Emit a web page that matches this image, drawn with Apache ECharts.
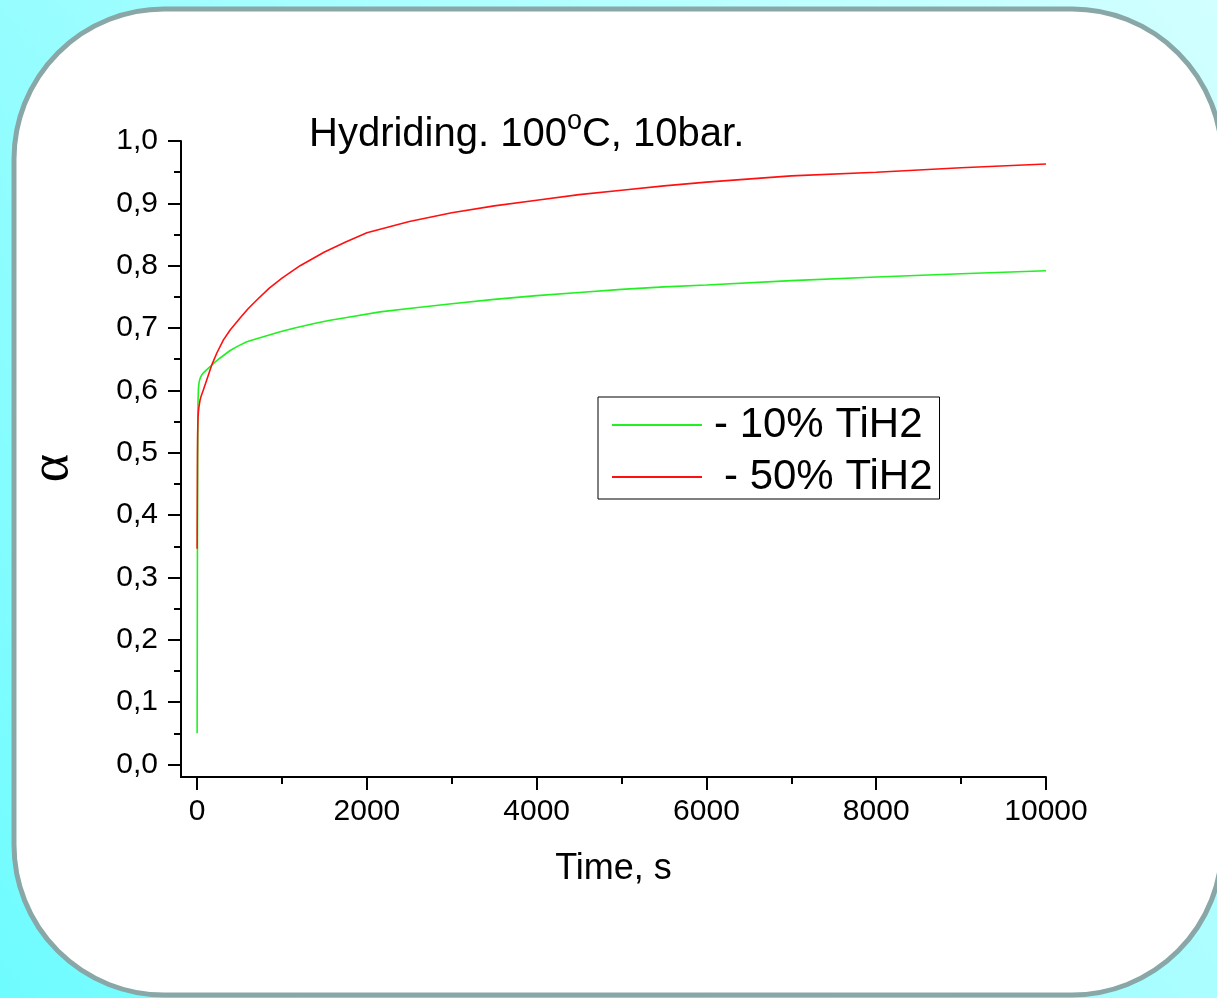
<!DOCTYPE html>
<html>
<head>
<meta charset="utf-8">
<script src="https://cdn.jsdelivr.net/npm/echarts@6/dist/echarts.min.js"></script>
<style>
html,body{margin:0;padding:0;width:1217px;height:998px;overflow:hidden;}
#chart{width:1217px;height:998px;}
</style>
</head>
<body>
<div id="chart"></div>
<script>
// ---- data ----
const seriesNames = ['- 10% TiH2', '- 50% TiH2'];
const timeGreen  = [0, 3, 6, 10, 15, 22, 30, 40, 55, 80, 110, 153, 200, 271, 389, 480, 585, 700, 800, 978, 1150, 1366, 1550, 1763, 2155, 2600, 3000, 3500, 4000, 4500, 5000, 5500, 6000, 7000, 8000, 9000, 10000];
const alphaGreen = [0.05, 0.30, 0.50, 0.58, 0.603, 0.612, 0.617, 0.621, 0.625, 0.629, 0.633, 0.638, 0.644, 0.652, 0.664, 0.671, 0.678, 0.683, 0.687, 0.694, 0.700, 0.707, 0.712, 0.717, 0.726, 0.733, 0.739, 0.746, 0.752, 0.757, 0.762, 0.766, 0.769, 0.776, 0.782, 0.787, 0.792];
const timeRed  = [0, 2, 4, 6, 10, 15, 22, 35, 50, 74, 114, 173, 232, 310, 389, 506, 600, 703, 850, 1000, 1213, 1500, 1750, 2000, 2500, 3000, 3500, 4000, 4500, 5000, 5500, 6000, 7000, 8000, 9000, 10000];
const alphaRed = [0.346, 0.42, 0.49, 0.53, 0.555, 0.566, 0.574, 0.585, 0.592, 0.601, 0.617, 0.641, 0.660, 0.681, 0.697, 0.716, 0.731, 0.745, 0.764, 0.780, 0.800, 0.822, 0.838, 0.853, 0.871, 0.885, 0.896, 0.905, 0.914, 0.921, 0.928, 0.934, 0.944, 0.950, 0.957, 0.963];
const xMajorTicks = [0, 2000, 4000, 6000, 8000, 10000];
const xMinorTicks = [1000, 3000, 5000, 7000, 9000];
const yMajorTicks = [0, 0.1, 0.2, 0.3, 0.4, 0.5, 0.6, 0.7, 0.8, 0.9, 1.0];
const yMinorTicks = [0.05, 0.15, 0.25, 0.35, 0.45, 0.55, 0.65, 0.75, 0.85, 0.95];
const titleText = 'Hydriding. 100{sup|o}C, 10bar.';
const xName = 'Time, s';
const yName = 'α';

const zip = (a, b) => a.map((v, i) => [v, b[i]]);
const font = 'Liberation Sans, Arial, sans-serif';

const chart = echarts.init(document.getElementById('chart'));
const xMin = -190, xMax = 10000, yMin = -0.02, yMax = 1.0;

chart.setOption({
  animation: false,
  backgroundColor: {
    type: 'linear', x: 0, y: 1, x2: 1, y2: 0,
    colorStops: [{offset: 0, color: '#6ffcff'}, {offset: 1, color: '#d2ffff'}]
  },
  graphic: [{
    type: 'rect', z: -10, silent: true,
    shape: {x: 14, y: 9, width: 1208, height: 986, r: 150},
    style: {fill: '#ffffff', stroke: '#8aa7a7', lineWidth: 5}
  }],
  title: {
    text: titleText, left: 309, top: 108, padding: 0,
    textStyle: {
      fontFamily: font, fontSize: 40, fontWeight: 'normal', color: '#000',
      rich: {sup: {fontFamily: font, fontSize: 27, padding: [0, 0, 26, 0], color: '#000'}}
    }
  },
  legend: {
    left: 598, top: 397, orient: 'vertical',
    borderColor: '#000', borderWidth: 1, padding: [7, 7, 1, 14],
    itemWidth: 90, itemHeight: 2, itemGap: 10, itemTextGap: 6,
    icon: 'rect',
    data: seriesNames,
    formatter: n => n === seriesNames[1] ? '{b|' + n + '}' : '{a|' + n + '}',
    textStyle: {fontFamily: font, fontSize: 42, color: '#000', rich: {
      a: {fontFamily: font, fontSize: 42, padding: [0, 0, 0, 7]},
      b: {fontFamily: font, fontSize: 42, padding: [0, 0, 0, 17]}
    }}
  },
  grid: {left: 181, top: 141, width: 865, height: 636},
  xAxis: [{
    type: 'value', min: xMin, max: xMax,
    name: xName, nameLocation: 'middle', nameGap: 74,
    nameTextStyle: {fontFamily: font, fontSize: 36, color: '#000'},
    axisLine: {show: true, onZero: false, lineStyle: {color: '#000', width: 2}},
    axisTick: {show: true, inside: false, length: 13, customValues: xMajorTicks, lineStyle: {color: '#000', width: 2}},
    axisLabel: {customValues: xMajorTicks, margin: 20, fontFamily: font, fontSize: 30, color: '#000',
      formatter: v => String(Math.round(v))},
    splitLine: {show: false}
  }, {
    type: 'value', min: xMin, max: xMax, position: 'bottom',
    axisLine: {show: false, onZero: false},
    axisTick: {show: true, inside: false, length: 7, customValues: xMinorTicks, lineStyle: {color: '#000', width: 2}},
    axisLabel: {show: false},
    splitLine: {show: false}
  }],
  yAxis: [{
    type: 'value', min: yMin, max: yMax,
    name: yName, nameLocation: 'middle', nameGap: 101,
    nameTextStyle: {fontFamily: 'Liberation Serif, DejaVu Serif, serif', fontSize: 54, color: '#000', padding: [0, 18, 0, 0]},
    axisLine: {show: true, onZero: false, lineStyle: {color: '#000', width: 2}},
    axisTick: {show: true, inside: false, length: 13, customValues: yMajorTicks, lineStyle: {color: '#000', width: 2}},
    axisLabel: {customValues: yMajorTicks, margin: 23, fontFamily: font, fontSize: 30, color: '#000',
      formatter: v => v.toFixed(1).replace('.', ',')},
    splitLine: {show: false}
  }, {
    type: 'value', min: yMin, max: yMax, position: 'left',
    axisLine: {show: false, onZero: false},
    axisTick: {show: true, inside: false, length: 7, customValues: yMinorTicks, lineStyle: {color: '#000', width: 2}},
    axisLabel: {show: false},
    splitLine: {show: false}
  }],
  series: [{
    name: seriesNames[0], type: 'line', data: zip(timeGreen, alphaGreen),
    showSymbol: false, smooth: false,
    lineStyle: {color: '#22f022', width: 1.6}, itemStyle: {color: '#22f022'}
  }, {
    name: seriesNames[1], type: 'line', data: zip(timeRed, alphaRed),
    showSymbol: false, smooth: false,
    lineStyle: {color: '#ff1010', width: 1.6}, itemStyle: {color: '#ff1010'}
  }]
});
</script>
</body>
</html>
